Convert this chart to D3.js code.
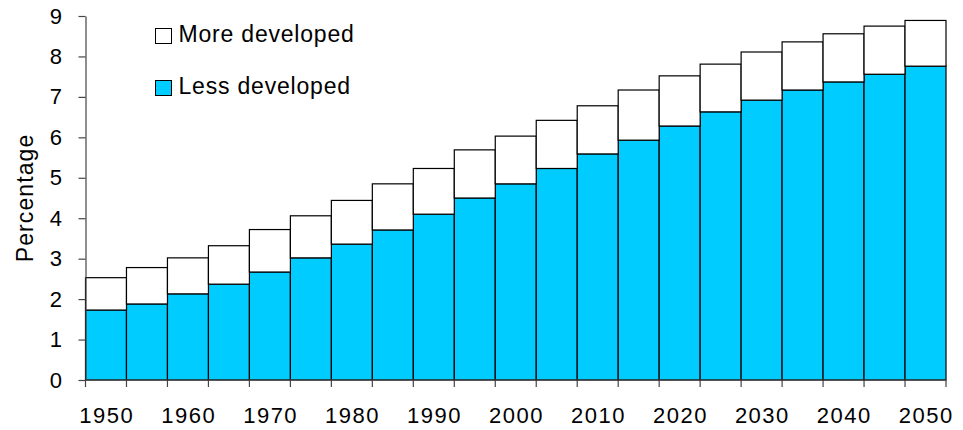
<!DOCTYPE html>
<html>
<head>
<meta charset="utf-8">
<script src="https://cdn.jsdelivr.net/npm/d3@7"></script>
<style>
  body { margin: 0; background: #fff; }
  text { font-family: Arial, "Liberation Sans", sans-serif; fill: #000; }
</style>
</head>
<body>
<div class="canvas"></div>
<script>
const years = [1950, 1955, 1960, 1965, 1970, 1975, 1980, 1985, 1990, 1995, 2000,
  2005, 2010, 2015, 2020, 2025, 2030, 2035, 2040, 2045, 2050];
const lessDeveloped = [1.73, 1.88, 2.13, 2.37, 2.67, 3.02, 3.36, 3.71, 4.10, 4.50, 4.85,
  5.23, 5.59, 5.93, 6.28, 6.63, 6.92, 7.17, 7.37, 7.56, 7.76];
const moreDeveloped = [0.80, 0.90, 0.89, 0.95, 1.05, 1.04, 1.08, 1.14, 1.13, 1.19, 1.18,
  1.19, 1.19, 1.24, 1.24, 1.18, 1.19, 1.19, 1.19, 1.19, 1.13];
const yTicks = [0, 1, 2, 3, 4, 5, 6, 7, 8, 9];
const labelYears = [1950, 1960, 1970, 1980, 1990, 2000, 2010, 2020, 2030, 2040, 2050];

const width = 963, height = 430;
const blue = "#00CCFF";

const svg = d3.select(".canvas").append("svg")
  .attr("width", width)
  .attr("height", height);

const x = d3.scaleBand()
  .domain(years)
  .range([85.5, 946])
  .padding(0);

const y = d3.scaleLinear()
  .domain([0, 9])
  .range([380, 16]);

const rows = years.map((yr, i) => ({
  year: yr,
  less: lessDeveloped[i],
  more: moreDeveloped[i]
}));

const series = d3.stack().keys(["less", "more"])(rows);
const fills = { less: blue, more: "#fff" };

svg.append("g")
  .selectAll("g")
  .data(series)
  .enter()
  .append("g")
  .attr("fill", (s) => fills[s.key])
  .selectAll("rect")
  .data((s) => s)
  .enter()
  .append("rect")
  .attr("x", (d) => x(d.data.year))
  .attr("width", x.bandwidth())
  .attr("y", (d) => y(d[1]))
  .attr("height", (d) => y(d[0]) - y(d[1]))
  .attr("stroke", "#000")
  .attr("stroke-width", 1.2);

// y axis
const yAxis = svg.append("g")
  .attr("transform", "translate(85.5,0)")
  .call(d3.axisLeft(y).tickValues(yTicks).tickSize(7).tickSizeOuter(0).tickPadding(15));
yAxis.select(".domain").attr("stroke", "#444").attr("stroke-width", 1.2);
yAxis.selectAll(".tick line").attr("stroke", "#444").attr("stroke-width", 1.2);
yAxis.selectAll("text")
  .attr("font-size", 22)
  .attr("font-family", "Arial, 'Liberation Sans', sans-serif")
  .attr("letter-spacing", 1.5)
  .attr("fill", "#000");

// x axis: ticks on category boundaries, labels every other category
const xg = svg.append("g");
xg.append("line")
  .attr("x1", x.range()[0]).attr("x2", x.range()[1])
  .attr("y1", y(0)).attr("y2", y(0))
  .attr("stroke", "#444").attr("stroke-width", 1.2);

const boundaries = years.map((d) => x(d)).concat([x.range()[1]]);
xg.selectAll("line.tick")
  .data(boundaries)
  .enter()
  .append("line")
  .attr("class", "tick")
  .attr("x1", (d) => d).attr("x2", (d) => d)
  .attr("y1", y(0)).attr("y2", y(0) + 7)
  .attr("stroke", "#444").attr("stroke-width", 1.2);

xg.selectAll("text")
  .data(labelYears)
  .enter()
  .append("text")
  .attr("x", (d) => x(d) + x.bandwidth() / 2 + 0.75)
  .attr("y", 422.5)
  .attr("text-anchor", "middle")
  .attr("font-size", 22)
  .attr("letter-spacing", 1.5)
  .text((d) => d);

// y title
svg.append("text")
  .attr("transform", "translate(32.5,198) rotate(-90)")
  .attr("text-anchor", "middle")
  .attr("font-size", 23)
  .attr("letter-spacing", 1.1)
  .text("Percentage");

// legend
const legend = svg.append("g");
const legendItems = [
  { label: "More developed", fill: "#fff", y: 28 },
  { label: "Less developed", fill: blue, y: 80 }
];
legend.selectAll("rect")
  .data(legendItems)
  .enter()
  .append("rect")
  .attr("x", 155.5)
  .attr("y", (d) => d.y + 0.5)
  .attr("width", 16)
  .attr("height", 15)
  .attr("fill", (d) => d.fill)
  .attr("stroke", "#000")
  .attr("stroke-width", 1);
legend.selectAll("text")
  .data(legendItems)
  .enter()
  .append("text")
  .attr("x", 178.5)
  .attr("y", (d) => d.y + 14)
  .attr("font-size", 23)
  .attr("letter-spacing", 0.8)
  .text((d) => d.label);
</script>
</body>
</html>
